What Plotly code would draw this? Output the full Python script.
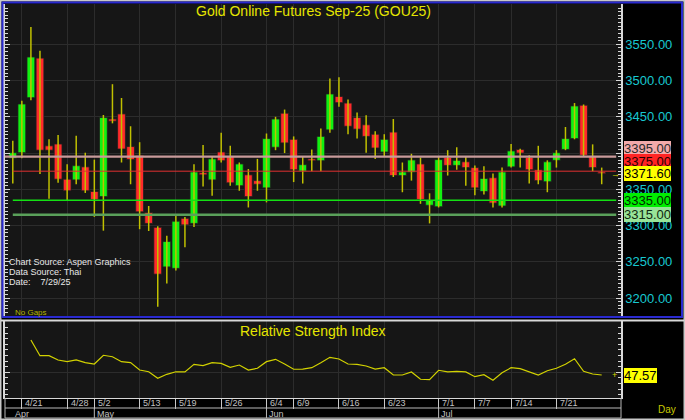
import plotly.graph_objects as go

# ---------------- data ----------------
dates = ["4/18", "4/21", "4/22", "4/23", "4/24", "4/25", "4/28", "4/29", "4/30",
         "5/2", "5/6", "5/7", "5/8", "5/9", "5/13", "5/14", "5/15", "5/16",
         "5/19", "5/20", "5/21", "5/22", "5/23", "5/26", "5/27", "5/28", "5/29", "5/30",
         "6/4", "6/5", "6/6", "6/9", "6/10", "6/11", "6/12", "6/13",
         "6/16", "6/17", "6/18", "6/19", "6/20", "6/23", "6/24", "6/25", "6/26", "6/27", "6/30",
         "7/1", "7/2", "7/3", "7/4", "7/7", "7/8", "7/9", "7/11",
         "7/14", "7/15", "7/16", "7/17", "7/18", "7/21", "7/22", "7/23", "7/24", "7/25", "7/29"]

opens = [3393, 3400.5, 3476.4, 3531, 3410, 3412.5, 3364, 3363, 3381,
         3347, 3340, 3447, 3454, 3409, 3397, 3318, 3297.6, 3243,
         3241, 3310, 3303, 3373, 3363, 3401.5, 3396, 3355, 3370, 3362,
         3352, 3408, 3455, 3419, 3375, 3392, 3389.5, 3432,
         3478, 3469, 3449, 3439, 3426, 3401.5, 3429, 3369, 3373.5, 3385, 3328,
         3326, 3394, 3383, 3388, 3380, 3347, 3366, 3327,
         3381, 3405, 3394, 3377, 3360.5, 3390, 3405, 3420, 3466, 3396, 3374]
highs = [3417, 3472, 3574, 3541, 3419, 3425, 3384.5, 3424, 3400.5,
         3391, 3452.5, 3495, 3476, 3437, 3415, 3327, 3299, 3286,
         3314, 3312, 3384.5, 3411, 3396, 3428, 3410, 3387, 3378, 3392,
         3427, 3450, 3460, 3423, 3396, 3405, 3434, 3503,
         3504.5, 3474, 3456, 3452, 3430, 3426, 3447, 3387, 3399, 3394, 3344.5,
         3395, 3404, 3408, 3396, 3383, 3382, 3372, 3380,
         3412.5, 3406, 3397, 3410, 3390, 3404, 3436, 3469, 3467, 3412, 3380]
lows = [3358, 3393, 3473, 3371, 3337, 3359, 3335, 3357, 3345,
        3312, 3293, 3441, 3387, 3357, 3295, 3292.5, 3188, 3220,
        3238, 3270, 3298, 3354, 3341, 3387, 3355, 3348, 3325, 3348,
        3332, 3404, 3400, 3360, 3358, 3375, 3375, 3428,
        3464, 3426, 3420, 3400.5, 3392, 3395, 3367, 3346, 3362, 3330, 3303,
        3325, 3369, 3377, 3355, 3342, 3343, 3325, 3325,
        3380, 3380, 3358, 3357, 3346, 3380, 3404, 3419, 3395, 3375, 3357]
closes = [3400.5, 3467.7, 3532.5, 3404, 3404, 3364, 3348, 3382.6, 3348,
          3336, 3449, 3444, 3405.6, 3391, 3319, 3303, 3233, 3278,
          3306, 3301, 3374, 3370, 3392, 3389.5, 3359, 3385, 3340, 3357,
          3420, 3447, 3414, 3377, 3384, 3389.5, 3423, 3481.5,
          3469.5, 3437, 3433, 3423, 3407, 3419, 3369, 3374, 3390.5, 3336, 3335,
          3391, 3383, 3390, 3380, 3352, 3365, 3331, 3374,
          3403, 3400, 3377, 3362, 3388, 3400.5, 3420, 3465, 3397, 3380, 3371.6]

rsi = [None, None, 78.8, 64.8, 64.8, 61.0, 59.5, 61.0, 58.6, 57.4, 65.2, 63.9, 59.5,
       58.6, 52.0, 50.5, 44.6, 48.2, 50.5, 50.3, 57.1, 55.9, 58.6, 58.0, 54.5, 56.5,
       52.0, 53.6, 59.5, 61.6, 57.4, 52.7, 52.9, 54.1, 58.6, 63.4, 61.9, 57.4, 57.1,
       55.6, 52.9, 54.1, 47.6, 47.6, 50.3, 43.8, 43.4, 51.8, 50.3, 50.9, 50.3, 46.1,
       47.9, 42.9, 49.6, 54.1, 53.2, 50.3, 47.6, 51.4, 53.6, 57.1, 62.1, 50.9, 48.5, 47.57]

date_ticks = ["4/21", "4/28", "5/2", "5/13", "5/19", "5/26", "6/4", "6/9",
              "6/16", "6/23", "7/1", "7/7", "7/14", "7/21"]
months = ["Apr", "May", "Jun", "Jul"]
month_start = ["4/18", "5/2", "6/4", "7/1"]

price_ticks = [3200, 3250, 3300, 3350, 3400, 3450, 3500, 3550]
levels = [3395.00, 3375.00, 3335.00, 3315.00]
last_price = 3371.60
last_rsi = 47.57

# ---------------- styling ----------------
W, H = 685, 420
ML, MR, MT, MB = 5, 64, 4, 22
PW = W - ML - MR
PH = H - MT - MB


def px_x(px):
    return (px - ML) / PW


def px_y(py):
    return (H - MB - py) / PH


FONT = "Liberation Sans, Arial, sans-serif"
NARROW = "Liberation Sans Narrow, Liberation Sans, Arial, sans-serif"
YEL = "#e6e600"
GRID = "#2c2c2c"
AXL = "#d8d8d8"

idx = list(range(len(dates)))
pos = {d: i for i, d in enumerate(dates)}
tickpos = [pos[d] for d in date_ticks]

xr = [-0.86, 67.13]
yr = [3175.3, 3605.6]
rr = [27.05, 95.8]

fig = go.Figure()

# wicks
wx, wy = [], []
for i in idx:
    wx += [i, i, None]
    wy += [lows[i], highs[i], None]
fig.add_trace(go.Scatter(x=wx, y=wy, mode="lines", line=dict(color="#c0c000", width=1.5),
                         hoverinfo="skip", showlegend=False, xaxis="x", yaxis="y"))

# bodies
bases = [min(o, c) for o, c in zip(opens, closes)]
hts = [max(abs(c - o), 2.0) for o, c in zip(opens, closes)]
cols = ["#11f011" if c >= o else "#ff2a2a" for o, c in zip(opens, closes)]
fig.add_trace(go.Bar(x=idx, y=hts, base=bases, width=0.86,
                     marker=dict(color=cols, line=dict(color="#202020", width=0.8)),
                     hoverinfo="skip", showlegend=False, xaxis="x", yaxis="y"))

# RSI
fig.add_trace(go.Scatter(x=idx, y=rsi, mode="lines", line=dict(color="#d2d200", width=1.2),
                         hoverinfo="skip", showlegend=False, xaxis="x2", yaxis="y2"))

# dummy traces so left-side tick axes render
fig.add_trace(go.Scatter(x=[0], y=[3400], mode="markers", marker=dict(size=0, opacity=0),
                         hoverinfo="skip", showlegend=False, xaxis="x", yaxis="y3"))
fig.add_trace(go.Scatter(x=[0], y=[50], mode="markers", marker=dict(size=0, opacity=0),
                         hoverinfo="skip", showlegend=False, xaxis="x2", yaxis="y4"))

main_dom = [px_y(316), 1]
rsi_dom = [0, px_y(321)]

minor_main = dict(dtick=5, tick0=0, ticks="inside", ticklen=3, tickcolor=AXL, tickwidth=1, showgrid=False)
minor_rsi = dict(dtick=5, tick0=0, ticks="inside", ticklen=3, tickcolor=AXL, tickwidth=1, showgrid=False)

fig.update_layout(
    width=W, height=H,
    margin=dict(l=ML, r=MR, t=MT, b=MB, pad=0),
    paper_bgcolor="#000000", plot_bgcolor="#161616",
    barmode="overlay", showlegend=False,
    font=dict(family=FONT),
    xaxis=dict(domain=[0, 1], range=xr, anchor="y", tickmode="array", tickvals=tickpos,
               showticklabels=False, ticks="", showgrid=True, gridcolor=GRID, gridwidth=1,
               zeroline=False, showline=False, fixedrange=True),
    xaxis2=dict(domain=[0, 1], range=xr, anchor="y2", tickmode="array", tickvals=tickpos,
                showticklabels=False, ticks="outside", ticklen=10, tickcolor="#c8c8c8", tickwidth=1,
                showgrid=True, gridcolor=GRID, zeroline=False,
                showline=True, linecolor=AXL, linewidth=1, fixedrange=True),
    yaxis=dict(domain=main_dom, range=yr, anchor="x", side="right", tickmode="array",
               tickvals=price_ticks,
               ticktext=["" if v == 3400 else f"{v:.2f}" for v in price_ticks],
               tickfont=dict(color="#18c8d0", size=13, family=FONT),
               ticks="inside", ticklen=5, tickcolor=AXL, minor=minor_main,
               showline=True, linecolor=AXL, linewidth=1.5,
               showgrid=True, gridcolor=GRID, zeroline=False, fixedrange=True),
    yaxis3=dict(overlaying="y", range=yr, anchor="x", side="left", tickmode="array",
                tickvals=price_ticks, showticklabels=False, ticks="inside", ticklen=5,
                tickcolor=AXL, minor=minor_main, showline=True, linecolor=AXL, linewidth=1.5,
                showgrid=False, zeroline=False, fixedrange=True),
    yaxis2=dict(domain=rsi_dom, range=rr, anchor="x2", side="right", tickmode="array",
                tickvals=[50], showticklabels=False, ticks="inside", ticklen=5, tickcolor=AXL,
                minor=minor_rsi, showline=True, linecolor=AXL, linewidth=1.5,
                showgrid=True, gridcolor=GRID, zeroline=False, fixedrange=True),
    yaxis4=dict(overlaying="y2", range=rr, anchor="x2", side="left", tickmode="array",
                tickvals=[50], showticklabels=False, ticks="inside", ticklen=5, tickcolor=AXL,
                minor=minor_rsi, showline=True, linecolor=AXL, linewidth=1.5,
                showgrid=False, zeroline=False, fixedrange=True),
)

shapes = []
# outer light frame
shapes.append(dict(type="rect", xref="paper", yref="paper", x0=px_x(0.5), x1=px_x(684.5),
                   y0=px_y(419.5), y1=px_y(0.5), line=dict(color="#c8c8c8", width=2), layer="above"))
# blue panel border
shapes.append(dict(type="rect", xref="paper", yref="paper", x0=px_x(2.5), x1=px_x(682),
                   y0=px_y(317), y1=px_y(2.5), line=dict(color="#2a2ad0", width=2), layer="above"))
# separator between panels
shapes.append(dict(type="line", xref="paper", yref="paper", x0=px_x(1), x1=px_x(684),
                   y0=px_y(320.5), y1=px_y(320.5), line=dict(color="#d8d8d8", width=2), layer="above"))
# date rows
for yy in (408, 418):
    shapes.append(dict(type="line", xref="paper", yref="paper", x0=0, x1=1,
                       y0=px_y(yy), y1=px_y(yy), line=dict(color="#b8b8b8", width=1)))
shapes.append(dict(type="line", xref="paper", yref="paper", x0=0, x1=0,
                   y0=px_y(418), y1=px_y(398), line=dict(color="#b8b8b8", width=1)))
shapes.append(dict(type="line", xref="paper", yref="paper", x0=1, x1=1,
                   y0=px_y(418), y1=px_y(398), line=dict(color="#b8b8b8", width=1)))
for m in month_start[1:]:
    shapes.append(dict(type="line", xref="x2", yref="paper", x0=pos[m], x1=pos[m],
                       y0=px_y(418), y1=px_y(408), line=dict(color="#b8b8b8", width=1)))
# support / resistance lines
lvl_line = {3395.00: ("#c89a9a", 2.2, -0.86), 3375.00: ("#e03030", 1, 0),
            3335.00: ("#14e014", 1.5, 0), 3315.00: ("#5aa05a", 2.5, 0)}
for lv in levels:
    c, w, x0 = lvl_line[lv]
    shapes.append(dict(type="line", xref="x", yref="y", x0=x0, x1=66.6, y0=lv, y1=lv,
                       line=dict(color=c, width=w), layer="above"))
fig.update_layout(shapes=shapes)

ann = []
ann.append(dict(text="Gold Online Futures Sep-25 (GOU25)", xref="paper", yref="paper",
                x=0.5, y=px_y(11), xanchor="center", yanchor="middle", showarrow=False,
                font=dict(color=YEL, size=14, family=FONT)))
ann.append(dict(text="Relative Strength Index", xref="paper", yref="paper",
                x=0.5, y=px_y(331), xanchor="center", yanchor="middle", showarrow=False,
                font=dict(color=YEL, size=14, family=FONT)))
for txt, yy in (("Chart Source: Aspen Graphics", 262.3), ("Data Source: Thai", 272.3),
                ("Date:\u00a0\u00a0\u00a0\u00a07/29/25", 282.3)):
    ann.append(dict(text=txt, xref="paper", yref="paper", x=px_x(6.5), y=px_y(yy),
                    xanchor="left", yanchor="middle", showarrow=False,
                    font=dict(color="#e8e8e8", size=9, family=FONT)))
ann.append(dict(text="No Gaps", xref="paper", yref="paper", x=px_x(12.5), y=px_y(312.5),
                xanchor="left", yanchor="middle", showarrow=False,
                font=dict(color="#b4b400", size=8, family=FONT)))
for d in date_ticks:
    ann.append(dict(text=d, xref="x2", yref="paper", x=pos[d], y=px_y(403.5), xshift=1.5,
                    xanchor="left", yanchor="middle", showarrow=False,
                    font=dict(color="#c0c0c0", size=9, family=NARROW)))
for m, d in zip(months, month_start):
    ann.append(dict(text=m, xref="x2", yref="paper", x=pos[d], y=px_y(413.5), xshift=0.5,
                    xanchor="left", yanchor="middle", showarrow=False,
                    font=dict(color="#c0c0c0", size=9, family=NARROW)))
ann.append(dict(text="Day", xref="paper", yref="paper", x=px_x(656), y=px_y(409),
                xanchor="left", yanchor="middle", showarrow=False,
                font=dict(color="#c8c800", size=10, family=FONT)))

box_style = {3395.00: ("#f2aaaa", "#2a2a2a", 8.5), 3375.00: ("#ff2424", "#2a0000", 10),
             3335.00: ("#00ee00", "#002800", 0), 3315.00: ("#98e498", "#102810", 0)}
for lv in levels:
    bg, fc, ys = box_style[lv]
    ann.append(dict(text=f"{lv:.2f}", xref="paper", yref="y", x=1, y=lv, xshift=3, yshift=ys,
                    xanchor="left", yanchor="middle", showarrow=False, bgcolor=bg,
                    borderpad=0, borderwidth=0, font=dict(color=fc, size=13, family=FONT)))
ann.append(dict(text=f"{last_price:.2f}", xref="paper", yref="y", x=1, y=last_price, xshift=3,
                xanchor="left", yanchor="middle", showarrow=False, bgcolor="#ffff00",
                borderpad=0, borderwidth=0, font=dict(color="#000000", size=13, family=FONT)))
ann.append(dict(text="→", xref="paper", yref="y", x=px_x(615), y=last_price,
                xanchor="center", yanchor="middle", showarrow=False,
                font=dict(color="#d8d800", size=9, family=FONT)))
ann.append(dict(text=f"{last_rsi:.2f}", xref="paper", yref="y2", x=1, y=last_rsi, xshift=3,
                xanchor="left", yanchor="middle", showarrow=False, bgcolor="#ffff00",
                borderpad=0, borderwidth=0, font=dict(color="#000000", size=13, family=FONT)))
ann.append(dict(text="+", xref="paper", yref="y2", x=px_x(614), y=last_rsi,
                xanchor="center", yanchor="middle", showarrow=False,
                font=dict(color="#d8d800", size=9, family=FONT)))
fig.update_layout(annotations=ann)

fig.write_html("out.html", config={"displayModeBar": False},
               post_script="document.body.style.margin='0px';document.body.style.overflow='hidden';")
